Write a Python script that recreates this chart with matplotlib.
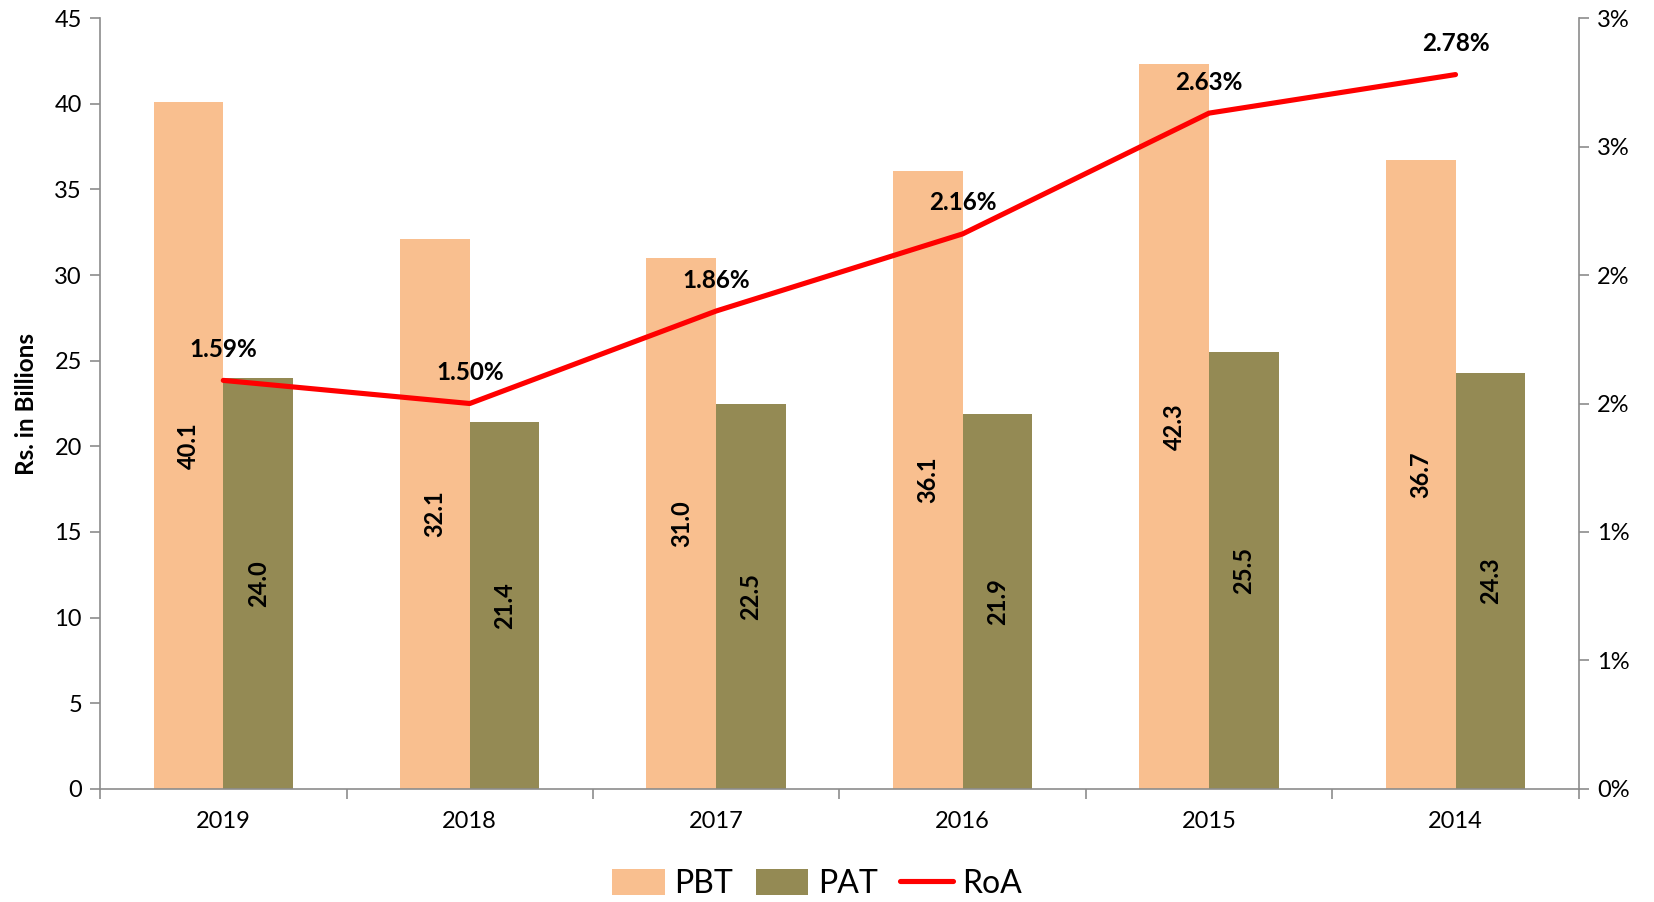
import matplotlib
matplotlib.use("Agg")
import matplotlib.pyplot as plt
from matplotlib.ticker import FixedLocator, FuncFormatter
import numpy as np
import math

years = ["2019", "2018", "2017", "2016", "2015", "2014"]
pbt = [40.1, 32.1, 31.0, 36.1, 42.3, 36.7]
pat = [24.0, 21.4, 22.5, 21.9, 25.5, 24.3]
roa = [1.59, 1.50, 1.86, 2.16, 2.63, 2.78]

plt.rcParams['font.family'] = ['Lato', 'DejaVu Sans']

fig = plt.figure(figsize=(16.54, 9.02), dpi=100)
ax = fig.add_axes([0.0605, 0.1253, 0.894, 0.8547])
ax2 = ax.twinx()

x = np.arange(len(years))
w = 0.283
c_pbt = "#F9BF8F"
c_pat = "#948A54"
gray = "#8C8C8C"

b1 = ax.bar(x - w / 2, pbt, w, color=c_pbt, label="PBT", zorder=2)
b2 = ax.bar(x + w / 2, pat, w, color=c_pat, label="PAT", zorder=2)

for xi, v in zip(x, pbt):
    ax.text(xi - w / 2, v / 2, f"{v:.1f}", rotation=90, ha="center", va="center",
            fontsize=17, fontweight="bold", color="black", zorder=3)
for xi, v in zip(x, pat):
    ax.text(xi + w / 2, v / 2, f"{v:.1f}", rotation=90, ha="center", va="center",
            fontsize=17, fontweight="bold", color="black", zorder=3)

ax.set_xlim(-0.5, len(years) - 0.5)
ax.set_ylim(0, 45)
ax.set_yticks(np.arange(0, 46, 5))
ax.set_xticks(x)
ax.set_xticklabels(years)
ax.xaxis.set_minor_locator(FixedLocator(np.arange(-0.5, len(years), 1.0)))
ax.tick_params(axis="x", which="major", length=0, labelsize=17, pad=16)
ax.tick_params(axis="x", which="minor", length=7, color=gray, width=1.2)
ax.tick_params(axis="y", length=7, color=gray, width=1.2, labelsize=17, pad=6)
ax.set_ylabel("Rs. in Billions", fontsize=17.5, fontweight="bold", labelpad=12)

ax2.set_ylim(0, 3.0)
ax2.set_yticks(np.arange(0, 3.01, 0.5))
ax2.yaxis.set_major_formatter(FuncFormatter(lambda v, p: f"{int(math.floor(v + 0.5))}%"))
ax2.tick_params(axis="y", length=7, color=gray, width=1.2, labelsize=17, pad=6)

line, = ax2.plot(x, roa, color="#FF0000", linewidth=3.7, label="RoA", zorder=4,
                 solid_capstyle="round")
for xi, v in zip(x, roa):
    ax2.annotate(f"{v:.2f}%", (xi, v), xytext=(0, 14), textcoords="offset points",
                 ha="center", va="bottom", fontsize=17.5, fontweight="bold")

for a in (ax, ax2):
    a.spines["top"].set_visible(False)
    for s in ("left", "right", "bottom"):
        a.spines[s].set_color(gray)
        a.spines[s].set_linewidth(1.2)
ax.spines["right"].set_visible(False)
ax2.spines["left"].set_visible(False)
ax2.spines["bottom"].set_visible(False)

fig.legend([b1, b2, line], ["PBT", "PAT", "RoA"], loc="center",
           bbox_to_anchor=(0.494, 0.02), ncol=3, frameon=False, fontsize=23,
           handlelength=1.65, handleheight=0.9, columnspacing=0.7, handletextpad=0.3,
           borderaxespad=0)

fig.savefig("out.png", dpi=100)
